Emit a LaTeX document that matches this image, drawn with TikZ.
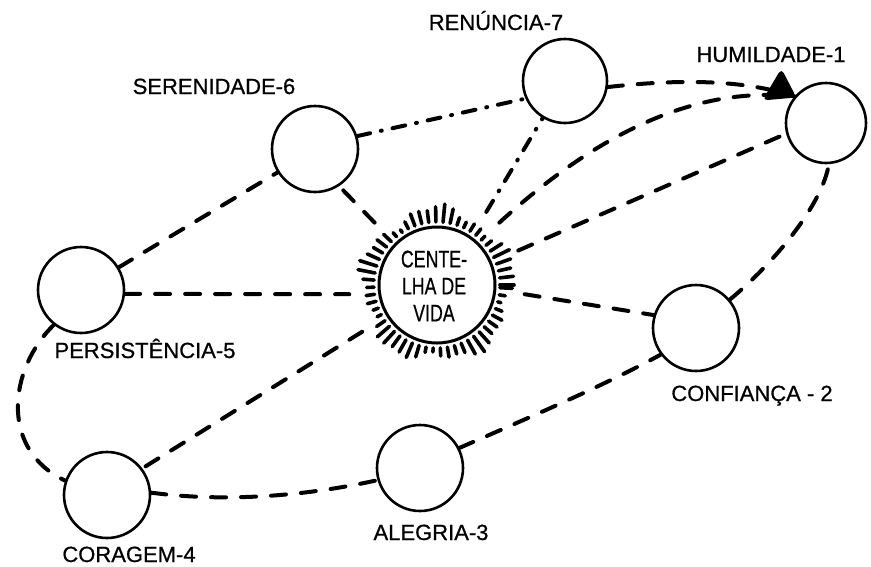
\documentclass[tikz,border=0pt]{standalone}
\usepackage{fontspec}
\setmainfont{Liberation Sans}
\newfontfamily\labfont{Liberation Sans}[FakeBold=0.7]
\usepackage{graphicx}
\begin{document}
\begin{tikzpicture}[x=1pt,y=-1pt,
  ring/.style={circle, draw, line width=2.6pt, minimum size=#1, inner sep=0pt},
  ring/.default=86pt,
  lab/.style={font=\labfont\fontsize{22}{24}\selectfont, inner sep=0pt, anchor=base},
  dsh/.style={line width=4pt, line cap=round, dash pattern=on 15pt off 15pt},
  dshdot/.style={line width=4pt, line cap=round, dash pattern=on 13pt off 11pt on 1pt off 11pt},
]
\useasboundingbox (0,0) rectangle (871,566);
% nodes
\node[ring] (ser) at (315,149) {};
\node[ring] (per) at (81,290) {};
\node[ring] (cor) at (107,495) {};
\node[ring] (ale) at (420,468) {};
\node[ring] (con) at (696,328) {};
\node[ring=84pt] (ren) at (565,81) {};
\node[ring=80pt] (hum) at (826,123) {};
\node[circle, minimum size=176pt, inner sep=0pt] (cen) at (437,285) {};
% centelha
\draw[line width=3pt] (cen.center) circle[radius=58pt];
\foreach \a in {0,6.5,...,359} {
  \pgfmathsetmacro{\r}{74+5*sin(5*\a)+3*cos(13*\a)}
  \draw[line width=3.6pt, line cap=round] ([shift={(\a:63pt)}]cen.center) -- ([shift={(\a:\r pt)}]cen.center);
}
\node[align=center, font=\labfont\fontsize{24}{27}\selectfont, inner sep=0pt] (ctext) at (434,286)
  {\scalebox{0.74}[1]{CENTE-}\\\scalebox{0.74}[1]{LHA DE}\\\scalebox{0.74}[1]{VIDA}};
% connectors
\draw[dshdot] (ser.17) -- (ren.204);
\draw[dsh] (ren.-8) .. controls (670,80) and (740,78) .. (hum.140);
\draw[dsh] (cen.45) .. controls (590,140) and (690,85) .. (hum.140);
\draw[dsh] (cen.23) -- (hum.195);
\draw[dshdot] (cen.56) -- (ren.239);
\draw[dsh] (cen.135) -- (ser.303);
\draw[dsh] (per.355) -- (cen.186);
\draw[dsh] (cen.354) -- (con.163);
\draw[dsh] (cen.212) -- (cor.37);
\draw[dsh] (per.31) -- (ser.212);
\draw[dsh] (per.232) .. controls (8,370) and (0,450) .. (cor.161);
\draw[dsh] (cor.3) .. controls (230,503) and (310,495) .. (ale.196);
\draw[dsh] (ale.27) .. controls (535,415) and (605,385) .. (con.217);
\draw[dsh] (con.40) .. controls (775,262) and (822,205) .. (hum.274);
% arrow blob
\fill[rounded corners=5pt] ([shift={(-32pt,-4pt)}]hum.140) -- ([shift={(2pt,-1pt)}]hum.140) -- ([shift={(-13pt,28pt)}]hum.140) -- cycle;
% labels
\node[lab] (lren) at (496,30) {RENÚNCIA-7};
\node[lab] (lhum) at (771,62) {HUMILDADE-1};
\node[lab] (lser) at (214,94) {SERENIDADE-6};
\node[lab] (lper) at (145,358) {PERSISTÊNCIA-5};
\node[lab] (lcon) at (752,401) {CONFIANÇA - 2};
\node[lab] (lale) at (431,540) {ALEGRIA-3};
\node[lab] (lcor) at (129,562) {CORAGEM-4};
\end{tikzpicture}
\end{document}
